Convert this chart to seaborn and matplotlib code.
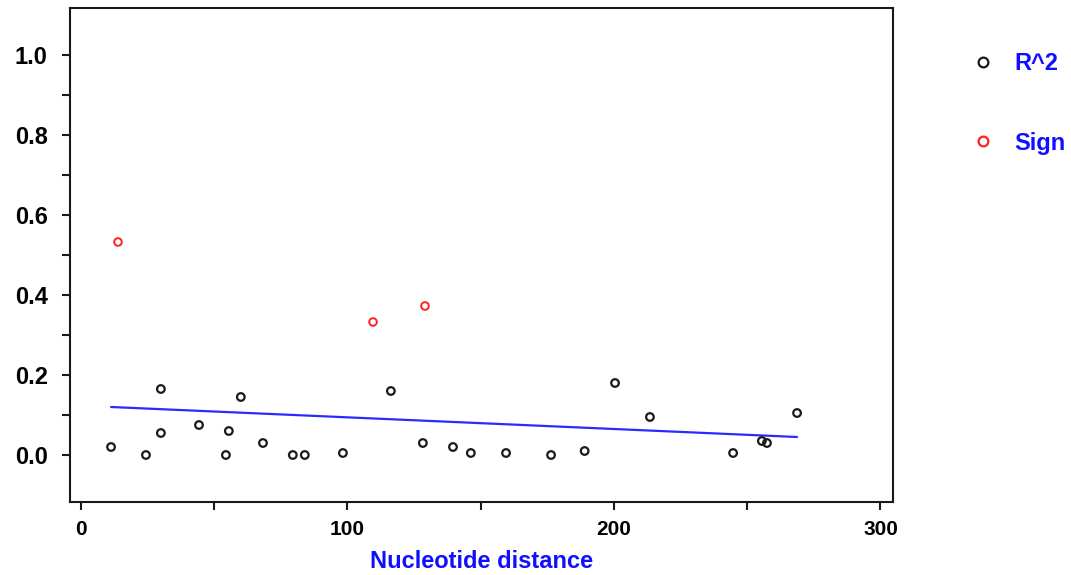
import numpy as np
import pandas as pd
import matplotlib
matplotlib.use("Agg")
import matplotlib.pyplot as plt
import seaborn as sns
from matplotlib.lines import Line2D

# R^2 values against nucleotide distance
r2_dist = [11.3, 24.4, 30, 30, 44.3, 54.4, 55.5, 60, 68.3, 79.5, 84, 98.3,
           116.3, 128.3, 139.6, 146.3, 159.5, 176.4, 189, 200.4, 213.5,
           244.7, 255.5, 257.4, 268.7]
r2_vals = [0.02, 0.0, 0.165, 0.055, 0.075, 0.0, 0.06, 0.145, 0.03, 0.0, 0.0, 0.005,
           0.16, 0.03, 0.02, 0.005, 0.005, 0.0, 0.01, 0.18, 0.095,
           0.005, 0.035, 0.03, 0.105]

# significant pairs
sign_dist = [13.9, 109.6, 129.1]
sign_vals = [0.5325, 0.3325, 0.3725]

# fitted trend line end points
trend_x = [11.3, 268.7]
trend_y = [0.12, 0.045]

x_ticks = [0, 100, 200, 300]
y_ticks = [0.0, 0.2, 0.4, 0.6, 0.8, 1.0]

sns.set_style("white")
plt.rcParams['font.family'] = ['Liberation Sans', 'DejaVu Sans']

fig = plt.figure(figsize=(10.71, 5.75), dpi=100)
ax = fig.add_axes([70 / 1071, 1 - 502 / 575, (893 - 70) / 1071, (502 - 8) / 575])

r2_df = pd.DataFrame({'dist': r2_dist, 'val': r2_vals})
sign_df = pd.DataFrame({'dist': sign_dist, 'val': sign_vals})

sns.lineplot(x=trend_x, y=trend_y, color='#2a2aff', lw=1.6, ax=ax)
sns.scatterplot(data=r2_df, x='dist', y='val', ax=ax, s=30, marker='o',
                facecolors='none', edgecolor='#1a1a1a', linewidth=1.6, zorder=3)
sns.scatterplot(data=sign_df, x='dist', y='val', ax=ax, s=30, marker='o',
                facecolors='none', edgecolor='#ff2020', linewidth=1.4, zorder=3)

ax.set_xlim(-4.1, 304.7)
ax.set_ylim(-0.1175, 1.1175)
ax.set_xticks(x_ticks)
ax.set_xticks([50, 150, 250], minor=True)
ax.set_yticks(y_ticks)
ax.set_yticks([0.1, 0.3, 0.5, 0.7, 0.9], minor=True)
ax.set_yticklabels([f"{v:.1f}" for v in y_ticks])
ax.tick_params(axis='both', which='both', direction='out', length=6, width=1.5,
               color='#1a1a1a', labelcolor='black', left=True, bottom=True)
ax.tick_params(axis='y', which='major', pad=10, labelsize=17)
ax.tick_params(axis='x', which='major', pad=7, labelsize=15)
for lab in ax.get_xticklabels() + ax.get_yticklabels():
    lab.set_fontweight('bold')
for sp in ax.spines.values():
    sp.set_color('#1a1a1a')
    sp.set_linewidth(1.5)

ax.set_xlabel('Nucleotide distance', color='#1010ff', fontsize=17,
              fontweight='bold', labelpad=8)
ax.set_ylabel('')

handles = [
    Line2D([], [], ls='none', marker='o', markersize=7, markerfacecolor='none',
           markeredgecolor='#1a1a1a', markeredgewidth=1.6),
    Line2D([], [], ls='none', marker='o', markersize=7, markerfacecolor='none',
           markeredgecolor='#ff2020', markeredgewidth=1.6),
]
fig.legend(handles, ['R^2', 'Sign'], loc='upper left',
           bbox_to_anchor=(972 / 1071, 1 - 52 / 575), frameon=False,
           handlelength=0.9, handletextpad=0.9, labelspacing=2.4,
           borderpad=0, borderaxespad=0, labelcolor='#1010ff',
           prop={'weight': 'bold', 'size': 17})

fig.savefig('out.png', dpi=100)
